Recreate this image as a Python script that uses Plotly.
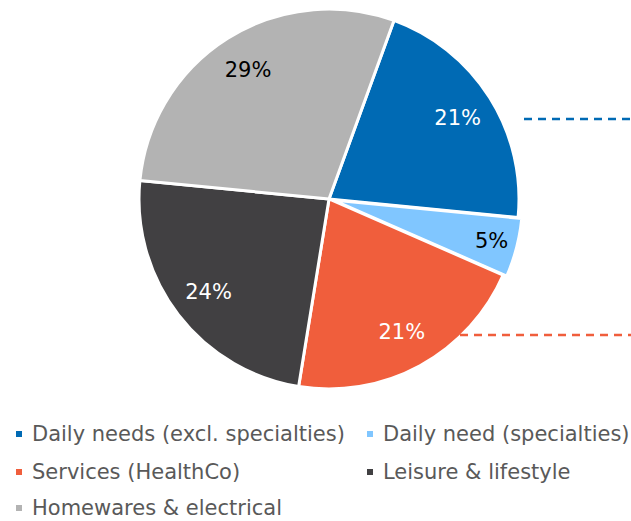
import plotly.graph_objects as go

labels = ["Daily needs (excl. specialties)", "Daily need (specialties)",
          "Services (HealthCo)", "Leisure & lifestyle", "Homewares & electrical"]
values = [21, 5, 21, 24, 29]
colors = ["#006AB4", "#80C6FF", "#F05E3C", "#414042", "#B3B3B3"]
text_colors = ["white", "black", "white", "white", "black"]
pulls = [0, 0.02, 0, 0, 0]

W, H = 631, 521
cx, cy, r = 329, 199, 190
rd = r * 1.02  # pie shrinks by (1 + max pull)
dom = dict(x=[(cx - rd) / W, (cx + rd) / W], y=[1 - (cy + rd) / H, 1 - (cy - rd) / H])
FONT = "DejaVu Sans"

fig = go.Figure()
# filled pie
fig.add_trace(go.Pie(
    labels=labels, values=values, sort=False, direction="clockwise",
    rotation=20, pull=pulls,
    marker=dict(colors=colors, line=dict(color="white", width=3)),
    textinfo="none", domain=dom, showlegend=False, hoverinfo="label+percent",
))
# transparent ring carrying the percentage labels further out
fig.add_trace(go.Pie(
    labels=labels, values=values, sort=False, direction="clockwise",
    rotation=20, pull=pulls, hole=0.6,
    marker=dict(colors=["rgba(0,0,0,0)"] * len(values), line=dict(width=0)),
    textinfo="percent", textposition="inside", insidetextorientation="horizontal",
    textfont=dict(family=FONT, size=21, color=text_colors),
    domain=dom, showlegend=False, hoverinfo="skip",
))

# dashed connector lines
fig.add_shape(type="line", xref="paper", yref="paper", x0=524 / W, x1=1, y0=1 - 119 / H, y1=1 - 119 / H,
              line=dict(color=colors[0], width=2.5, dash="8px,6px"))
fig.add_shape(type="line", xref="paper", yref="paper", x0=460 / W, x1=1, y0=1 - 335 / H, y1=1 - 335 / H,
              line=dict(color=colors[2], width=2.5, dash="8px,6px"))

# legend (two columns)
col_x = [19, 370]
row_y = [434, 472, 508]
for i, (lab, col) in enumerate(zip(labels, colors)):
    mx = col_x[i % 2]
    my = row_y[i // 2]
    fig.add_shape(type="rect", xref="paper", yref="paper",
                  x0=(mx - 3) / W, x1=(mx + 3) / W, y0=1 - (my + 3) / H, y1=1 - (my - 3) / H,
                  fillcolor=col, line=dict(width=0))
    fig.add_annotation(text=lab, xref="paper", yref="paper", x=(mx + 11) / W, y=1 - my / H,
                       xanchor="left", yanchor="middle", showarrow=False,
                       font=dict(family=FONT, size=21, color="#595959"))

fig.update_layout(width=W, height=H, margin=dict(l=0, r=0, t=0, b=0),
                  paper_bgcolor="white", plot_bgcolor="white",
                  uniformtext=dict(minsize=21, mode="show"))
fig.write_html("out.html")
